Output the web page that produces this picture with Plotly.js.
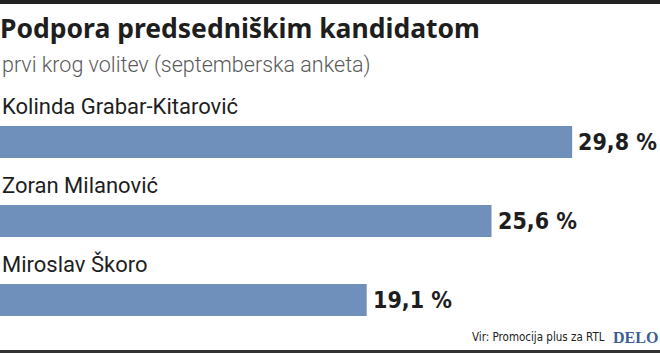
<!DOCTYPE html>
<html>
<head>
<meta charset="utf-8">
<script src="https://cdn.plot.ly/plotly-3.0.1.min.js"></script>
<style>html,body{margin:0;padding:0;background:#fff;}#chart{width:660px;height:354px;}</style>
</head>
<body>
<div id="chart"></div>
<script>
const candidates = ["Kolinda Grabar-Kitarović", "Zoran Milanović", "Miroslav Škoro"];
const support = [29.8, 25.6, 19.1];
const titleText = "Podpora predsedniškim kandidatom";
const subtitleText = "prvi krog volitev (septemberska anketa)";
const sourceText = "Vir: Promocija plus za RTL";
const brandText = "DELO";

const W = 660, H = 354;
const py = p => 1 - p / H;   // pixel row -> paper y
const narrow = "DejaVu Sans Condensed, DejaVu Sans";

const trace = {
  type: "bar",
  orientation: "h",
  y: candidates,
  x: support,
  marker: {color: "#7090bc"},
  width: 32 / 79,
  hoverinfo: "skip",
  cliponaxis: false
};

const annotations = [];
candidates.forEach((c, i) => {
  annotations.push({
    x: 0, xref: "paper", y: c, yref: "y", yshift: 36,
    xanchor: "left", yanchor: "middle", showarrow: false,
    text: c, font: {family: "Roboto", size: 22, color: "#1e1e1e"}
  });
  annotations.push({
    x: support[i], xref: "x", y: c, yref: "y",
    xanchor: "left", yanchor: "middle", showarrow: false, xshift: 4,
    text: support[i].toFixed(1).replace(".", ",") + " %",
    font: {family: narrow, size: 23, color: "#1e1e1e", weight: 700}
  });
});
annotations.push({
  x: 0, xref: "paper", y: py(65), yref: "paper", xanchor: "left", yanchor: "middle",
  showarrow: false, text: subtitleText,
  font: {family: "Roboto", size: 21.5, color: "#5a5a5a", weight: 300}
});
annotations.push({
  x: 607 / W, xref: "paper", y: py(337), yref: "paper", xanchor: "right", yanchor: "middle",
  showarrow: false, text: sourceText,
  font: {family: narrow, size: 11.5, color: "#222222"}
});
annotations.push({
  x: 1, xref: "paper", y: py(337), yref: "paper", xanchor: "right", yanchor: "middle",
  showarrow: false, text: brandText,
  font: {family: "Liberation Serif", size: 16, color: "#3b5f95", weight: 700}
});

const layout = {
  width: W, height: H,
  margin: {l: 0, r: 0, t: 0, b: 0, pad: 0},
  paper_bgcolor: "#ffffff", plot_bgcolor: "#ffffff",
  showlegend: false,
  title: {
    text: titleText, x: 0, xref: "paper", xanchor: "left",
    y: py(29), yref: "paper", yanchor: "middle",
    font: {family: "Noto Sans", size: 26.5, color: "#1e1e1e", weight: 700}
  },
  xaxis: {range: [0, W / 19.2], visible: false, fixedrange: true},
  yaxis: {
    type: "category", categoryorder: "array", categoryarray: candidates,
    range: [(H - 142) / 79, -142 / 79], visible: false, fixedrange: true
  },
  annotations: annotations,
  shapes: [
    {type: "rect", xref: "paper", yref: "paper", x0: 0, x1: 1, y0: py(0), y1: py(4),
     fillcolor: "#222222", line: {width: 0}},
    {type: "rect", xref: "paper", yref: "paper", x0: 0, x1: 1, y0: py(350), y1: py(353),
     fillcolor: "#333333", line: {width: 0}}
  ]
};

Plotly.newPlot("chart", [trace], layout, {displayModeBar: false, staticPlot: true});
</script>
</body>
</html>
